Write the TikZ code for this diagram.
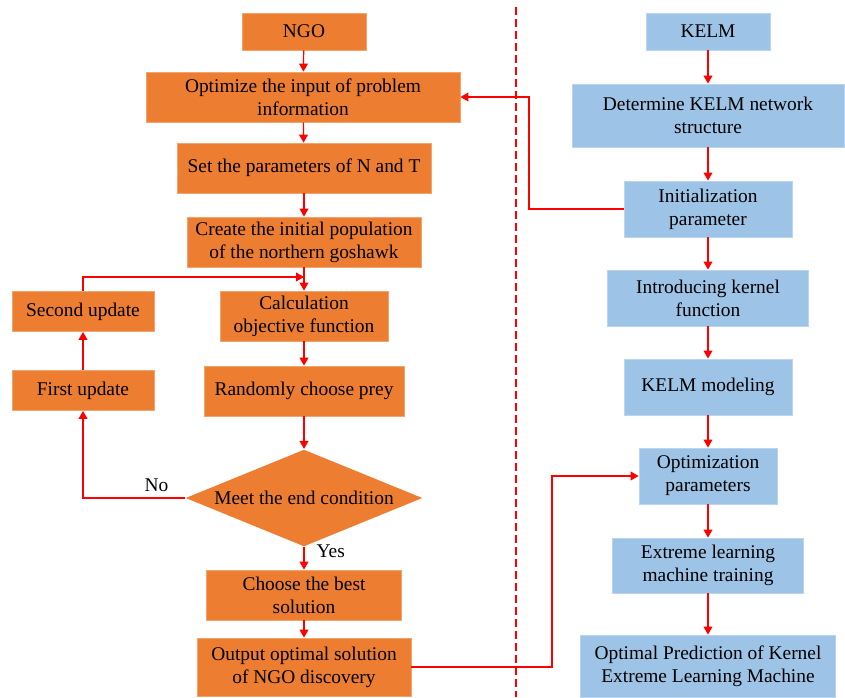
\documentclass[tikz,border=0pt]{standalone}
\usepackage{fontspec}
\setmainfont{Liberation Serif}
\usetikzlibrary{shapes.geometric,arrows.meta}
\definecolor{ngoorange}{HTML}{ED7D31}
\definecolor{kelmblue}{HTML}{9DC3E6}

\begin{document}
\begin{tikzpicture}[x=0.5pt,y=-0.5pt,>={Triangle[length=4pt,width=4.4pt]},line width=0.6pt,
  font=\fontsize{9.7}{11.6}\selectfont,
  ngo box/.style={rectangle,fill=ngoorange,draw=ngoorange!70!white,line width=0.4pt,align=center,inner sep=0pt},
  kelm box/.style={rectangle,fill=kelmblue,draw=kelmblue!70!white,line width=0.4pt,align=center,inner sep=0pt},
  flow/.style={->,red},
  flow label/.style={text=black}]

                    \useasboundingbox (0,0) rectangle (845,697);

                    % NGO side
                    \node[ngo box,minimum width=62pt,minimum height=18.5pt] (ngo) at (304,31.5) {NGO};
                    \node[ngo box,minimum width=157pt,minimum height=25pt] (input) at (303,97) {Optimize the input of problem\\information};
                    \node[ngo box,minimum width=127pt,minimum height=25pt] (para) at (304,168) {Set the parameters of N and T};
                    \node[ngo box,minimum width=117pt,minimum height=25pt] (create) at (304,242) {Create the initial population\\of the northern goshawk};
                    \node[ngo box,minimum width=84pt,minimum height=25pt] (calc) at (304,316) {Calculation\\objective function};
                    \node[ngo box,minimum width=100pt,minimum height=25pt] (prey) at (304,391) {Randomly choose prey};
                    \node[diamond,fill=ngoorange,inner sep=0pt,minimum width=118.5pt,minimum height=48.5pt,
                          label=center:{Meet the end condition}] (cond) at (304,498) {};
                    \node[ngo box,minimum width=97.5pt,minimum height=25pt] (best) at (304,595) {Choose the best\\solution};
                    \node[ngo box,minimum width=107pt,minimum height=29pt] (output) at (304,667) {Output optimal solution\\of NGO discovery};
                    \node[ngo box,minimum width=71pt,minimum height=20pt] (second) at (83,311.5) {Second update};
                    \node[ngo box,minimum width=71pt,minimum height=20pt] (first) at (83,390.5) {First update};
                    \coordinate (loopin) at (304,277);

                    % KELM side
                    \node[kelm box,minimum width=62pt,minimum height=18.5pt] (kelm) at (708,31.5) {KELM};
                    \node[kelm box,minimum width=136pt,minimum height=31.5pt] (struct) at (708,115.5) {Determine KELM network\\structure};
                    \node[kelm box,minimum width=84pt,minimum height=28pt] (init) at (708,209) {Initialization\\parameter};
                    \node[kelm box,minimum width=100.5pt,minimum height=28pt] (kernel) at (708,298) {Introducing kernel\\function};
                    \node[kelm box,minimum width=84pt,minimum height=28pt] (model) at (708,387) {KELM modeling};
                    \node[kelm box,minimum width=69pt,minimum height=28pt] (optp) at (708,476) {Optimization\\parameters};
                    \node[kelm box,minimum width=95.5pt,minimum height=27.5pt] (train) at (708,565.5) {Extreme learning\\machine training};
                    \node[kelm box,minimum width=127.5pt,minimum height=31pt] (pred) at (708,666) {Optimal Prediction of Kernel\\Extreme Learning Machine};
                    \coordinate (bend1) at (529,209);
                    \coordinate (bend2) at (552,0);

                    \draw[red,dashed,dash pattern=on 4pt off 2pt] (516,7) -- (516,697);

                    \draw[flow] (ngo) to (input);
                    \draw[flow] (input) to (para);
                    \draw[flow] (para) to (create);
                    \draw[flow] (create) to (calc);
                    \draw[flow] (calc) to (prey);
                    \draw[flow] (prey) to (cond);
                    \draw[flow] (cond) to node[flow label,right,pos=0.2,inner sep=6pt] {Yes} (best);
                    \draw[flow] (best) to (output);
                    \draw[flow] (cond.west) -| node[flow label,pos=0.14,above,inner sep=3pt] {No} (first.south);
                    \draw[flow] (first) to (second);
                    \draw[flow] (second.north) |- (loopin);

                    \draw[flow] (kelm) to (struct);
                    \draw[flow] (struct) to (init);
                    \draw[flow] (init) to (kernel);
                    \draw[flow] (kernel) to (model);
                    \draw[flow] (model) to (optp);
                    \draw[flow] (optp) to (train);
                    \draw[flow] (train) to (pred);

                    \draw[flow] (init.west) -- (bend1) |- (input.east);
                    \draw[flow] (output.east) -| (bend2 |- optp.west) -- (optp.west);

                    ;
                \end{tikzpicture}
\end{document}
